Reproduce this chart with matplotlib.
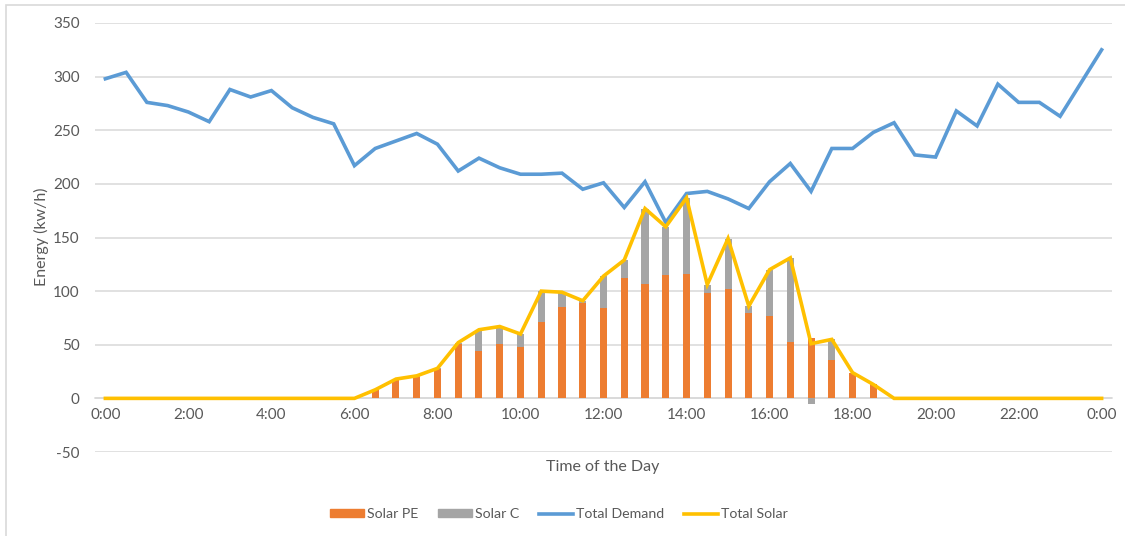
import matplotlib.pyplot as plt
import matplotlib.patches as mpatches
from matplotlib.lines import Line2D
import numpy as np

plt.rcParams['font.family'] = ['Lato', 'DejaVu Sans']
plt.rcParams['axes.unicode_minus'] = False

# half-hour steps from 0:00 to the next 0:00
hours = np.arange(49) * 0.5

total_demand = [298, 304, 276, 273, 267, 258, 288, 281, 287, 271, 262, 256,
                217, 233, 240, 247, 237, 212, 224, 215, 209, 209, 210, 195,
                201, 178, 202, 164, 191, 193, 186, 177, 202, 219, 193, 233,
                233, 248, 257, 227, 225, 268, 254, 293, 276, 276, 263, 294, 325]

solar_pe = [0] * 13 + [8, 18, 20, 27, 51, 44, 51, 48, 71, 85, 89, 84, 112, 107,
                       115, 116, 98, 102, 80, 77, 53, 56, 36, 24, 13] + [0] * 11

solar_c = [0] * 13 + [0, 0, 1, 1, 1, 20, 16, 12, 29, 14, 2, 30, 17, 70,
                      45, 71, 8, 47, 6, 43, 78, -5, 19, 0, 0] + [0] * 11

solar_pe = np.array(solar_pe, dtype=float)
solar_c = np.array(solar_c, dtype=float)
total_solar = solar_pe + solar_c

tick_hours = np.arange(0, 25, 2)
tick_labels = [f"{h % 24}:00" for h in tick_hours]

text_col = '#595959'
orange = '#ED7D31'
grey = '#A5A5A5'
blue = '#5B9BD5'
gold = '#FFC000'

fig = plt.figure(figsize=(11.25, 5.36), dpi=100)
W, H = 1125, 536
ax = fig.add_axes([95 / W, 1 - 452 / H, (1112 - 95) / W, (452 - 23) / H])

# chart area border (left and top edges)
fig.patches.append(mpatches.Rectangle((6 / W, -0.1), 1.2, 1 - 5 / H + 0.1,
                                      transform=fig.transFigure, fill=False,
                                      edgecolor='#D9D9D9', linewidth=1.2))

bw = 0.17
ax.bar(hours, solar_pe, width=bw, color=orange, zorder=2)
# negative parts stack down from zero, positive parts sit on top of PE
c_bottom = np.where(solar_c >= 0, solar_pe, 0)
ax.bar(hours, solar_c, width=bw, bottom=c_bottom, color=grey, zorder=2)

ax.plot(hours, total_demand, color=blue, linewidth=2.6, zorder=3,
        solid_joinstyle='miter')
ax.plot(hours, total_solar, color=gold, linewidth=2.6, zorder=4,
        solid_joinstyle='miter')

ax.set_xlim(-0.25, 24.25)
ax.set_ylim(-50, 350)
ax.set_yticks(np.arange(-50, 351, 50))
ax.set_xticks(tick_hours)
ax.set_xticklabels(tick_labels)

ax.grid(axis='y', color='#D9D9D9', linewidth=1.1, zorder=0)
ax.set_axisbelow(True)
for s in ['top', 'right', 'left']:
    ax.spines[s].set_visible(False)
ax.spines['bottom'].set_position(('data', 0))
ax.spines['bottom'].set_color('#D9D9D9')
ax.spines['bottom'].set_linewidth(1.1)
ax.spines['bottom'].set_zorder(1)
ax.tick_params(axis='both', length=0, labelsize=11, colors=text_col)
ax.tick_params(axis='y', pad=11)
ax.tick_params(axis='x', pad=7)

fig.text(603 / W, 1 - 467 / H, 'Time of the Day', ha='center', va='center',
         fontsize=11.5, color=text_col)
fig.text(41 / W, 1 - 237 / H, 'Energy (kw/h)', ha='center', va='center',
         rotation=90, fontsize=11.5, color=text_col)

handles = [
    mpatches.Patch(color=orange, label='Solar PE'),
    mpatches.Patch(color=grey, label='Solar C'),
    Line2D([], [], color=blue, linewidth=2.6, label='Total Demand'),
    Line2D([], [], color=gold, linewidth=2.6, label='Total Solar'),
]
leg = fig.legend(handles=handles, loc='center', bbox_to_anchor=(559 / W, 1 - 514 / H),
                 ncol=4, frameon=False, fontsize=10.2, handlelength=2.4,
                 handleheight=0.45, handletextpad=0.2, columnspacing=1.4)
for t in leg.get_texts():
    t.set_color(text_col)

fig.savefig('out.png', dpi=100)
